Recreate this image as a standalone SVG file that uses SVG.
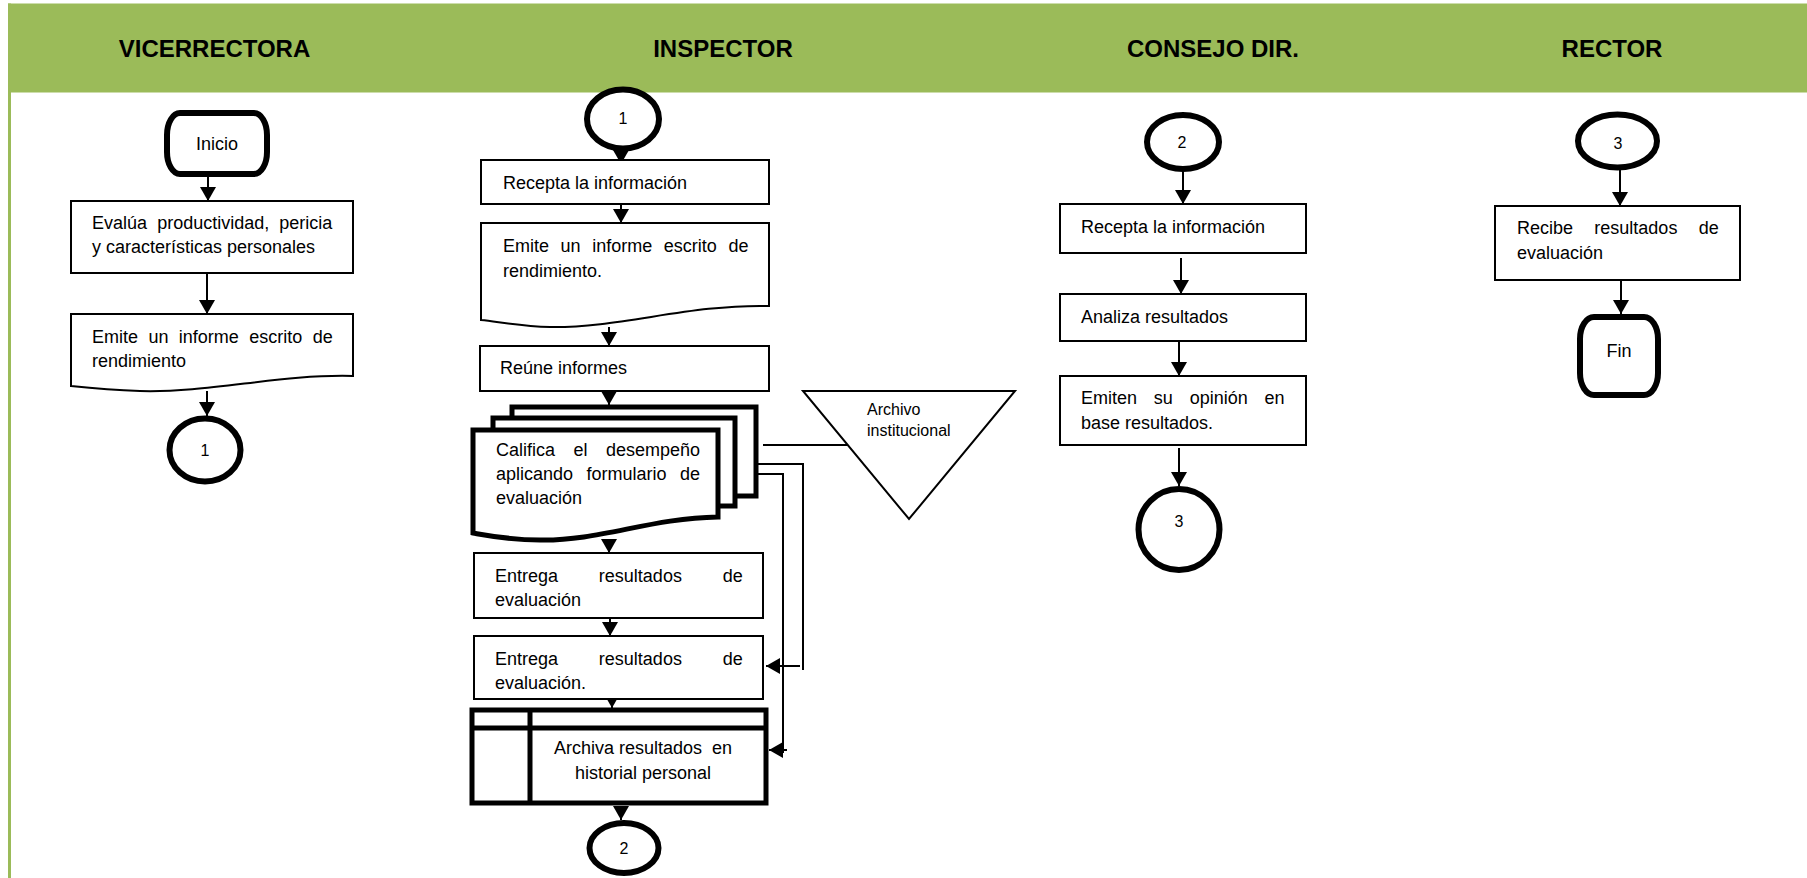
<svg xmlns="http://www.w3.org/2000/svg" width="1807" height="878" viewBox="0 0 1807 878">
  <style>
    .box { fill: #fff; stroke: #000; stroke-width: 2; }
    .heavy { fill: #fff; stroke: #000; stroke-width: 5; }
    .conn { fill: none; stroke: #000; stroke-width: 2; }
    .arrow { fill: none; stroke: #000; stroke-width: 2; marker-end: url(#ah); }
    text { font-family: "Liberation Sans", Arial, Helvetica, sans-serif; fill: #000; }
    .t { font-size: 18px; }
    .c { font-size: 18px; text-anchor: middle; }
    .n { font-size: 16px; text-anchor: middle; }
    .s { font-size: 16px; }
    .hd { font-size: 24px; font-weight: bold; text-anchor: middle; }
  </style>
  <defs>
    <marker id="ah" markerUnits="userSpaceOnUse" markerWidth="14" markerHeight="16" viewBox="0 0 14 16" refX="14" refY="8" orient="auto">
      <path d="M0,0 L14,8 L0,16 Z" fill="#000"/>
    </marker>
  </defs>

  <rect width="1807" height="878" fill="#fff"/>

  <!-- lane header band and left border -->
  <g id="lanes">
    <rect x="8" y="3.5" width="1799" height="89" fill="#9BBB59"/>
    <rect x="8" y="3.5" width="3" height="875" fill="#9BBB59"/>
    <text class="hd" x="214.5" y="57">VICERRECTORA</text>
    <text class="hd" x="723" y="57">INSPECTOR</text>
    <text class="hd" x="1213" y="57">CONSEJO DIR.</text>
    <text class="hd" x="1612" y="57">RECTOR</text>
  </g>

  <!-- connectors -->
  <g id="connectors">
    <path class="arrow" d="M208,177 V201"/>
    <path class="arrow" d="M207,273 V314"/>
    <path class="arrow" d="M207,391 V416"/>

    <path class="arrow" d="M621,148 V164"/>
    <path class="arrow" d="M621,204 V223"/>
    <path class="arrow" d="M609,327 V346"/>
    <path class="arrow" d="M609,391 V405"/>
    <path class="arrow" d="M609,540 V553"/>
    <path class="arrow" d="M610,618 V636"/>
    <path class="arrow" d="M612,699 V708"/>
    <path class="arrow" d="M621,806 V820"/>

    <path class="conn" d="M763,445 H848"/>
    <path class="conn" d="M738,464 H803 V670"/>
    <path class="arrow" d="M800,666 H766"/>
    <path class="conn" d="M712,474 H783 V753"/>
    <path class="arrow" d="M787,750 H769"/>

    <path class="arrow" d="M1183,169 V204"/>
    <path class="arrow" d="M1181,258 V294"/>
    <path class="arrow" d="M1179,341 V376"/>
    <path class="arrow" d="M1179,448 V486"/>

    <path class="arrow" d="M1620,168 V206"/>
    <path class="arrow" d="M1621,280 V314"/>
  </g>

  <!-- VICERRECTORA -->
  <g id="vic-inicio">
    <rect x="167" y="113" width="100" height="61" rx="13" ry="22" fill="#fff" stroke="#000" stroke-width="6"/>
    <text class="c" x="217" y="150">Inicio</text>
  </g>
  <g id="vic-evalua">
    <rect class="box" x="71" y="201" width="282" height="72"/>
    <text class="t" x="92" y="229" style="word-spacing:5.1px">Evalúa productividad, pericia</text>
    <text class="t" x="92" y="253">y características personales</text>
  </g>
  <g id="vic-emite">
    <path class="box" d="M71,314 H353 V376 C280,374 210,393 140,391 C110,390 90,388 71,386 Z"/>
    <text class="t" x="92" y="343" style="word-spacing:5.4px">Emite un informe escrito de</text>
    <text class="t" x="92" y="367">rendimiento</text>
  </g>
  <g id="vic-con1">
    <ellipse cx="205" cy="450" rx="35.5" ry="31.5" fill="#fff" stroke="#000" stroke-width="6"/>
    <text class="n" x="205" y="456">1</text>
  </g>

  <!-- INSPECTOR -->
  <g id="ins-con1">
    <ellipse cx="623" cy="119" rx="36" ry="29.5" fill="#fff" stroke="#000" stroke-width="6"/>
    <text class="n" x="623" y="124">1</text>
  </g>
  <g id="ins-recepta">
    <rect class="box" x="481" y="160" width="288" height="44"/>
    <text class="t" x="503" y="189">Recepta la información</text>
  </g>
  <g id="ins-emite">
    <path class="box" d="M481,223 H769 V306 C690,304 620,328 550,327 C520,326 500,322 481,320 Z"/>
    <text class="t" x="503" y="252" style="word-spacing:6.6px">Emite un informe escrito de</text>
    <text class="t" x="503" y="277">rendimiento.</text>
  </g>
  <g id="ins-reune">
    <rect class="box" x="480" y="346" width="289" height="45"/>
    <text class="t" x="500" y="374">Reúne informes</text>
  </g>
  <g id="ins-califica">
    <rect class="heavy" x="512" y="407" width="244" height="89"/>
    <rect class="heavy" x="493" y="418" width="242" height="88"/>
    <path class="heavy" d="M473,430 H718 V517 C650,518 600,541 540,540 C510,540 490,536 473,533 Z"/>
    <text class="t" x="496" y="456" style="word-spacing:13.5px">Califica el desempeño</text>
    <text class="t" x="496" y="480" style="word-spacing:8.5px">aplicando formulario de</text>
    <text class="t" x="496" y="504">evaluación</text>
  </g>
  <g id="ins-archivo">
    <polygon points="803,391 1015,391 909,519" fill="#fff" stroke="#000" stroke-width="2"/>
    <text class="s" x="867" y="415">Archivo</text>
    <text class="s" x="867" y="436">institucional</text>
  </g>
  <g id="ins-entrega1">
    <rect class="box" x="474" y="553" width="289" height="65"/>
    <text class="t" x="495" y="582" style="word-spacing:35.8px">Entrega resultados de</text>
    <text class="t" x="495" y="606">evaluación</text>
  </g>
  <g id="ins-entrega2">
    <rect class="box" x="474" y="636" width="289" height="63"/>
    <text class="t" x="495" y="665" style="word-spacing:35.8px">Entrega resultados de</text>
    <text class="t" x="495" y="689">evaluación.</text>
  </g>
  <g id="ins-archiva">
    <rect class="heavy" x="472" y="710" width="294" height="93"/>
    <path d="M472,728 H766 M530,710 V803" fill="none" stroke="#000" stroke-width="5"/>
    <text class="c" x="643" y="754" xml:space="preserve">Archiva resultados  en</text>
    <text class="c" x="643" y="779">historial personal</text>
  </g>
  <g id="ins-con2">
    <ellipse cx="624" cy="848" rx="34.5" ry="25" fill="#fff" stroke="#000" stroke-width="6"/>
    <text class="n" x="624" y="854">2</text>
  </g>

  <!-- CONSEJO DIR. -->
  <g id="con-con2">
    <ellipse cx="1183" cy="142" rx="36" ry="27" fill="#fff" stroke="#000" stroke-width="6"/>
    <text class="n" x="1182" y="148">2</text>
  </g>
  <g id="con-recepta">
    <rect class="box" x="1060" y="204" width="246" height="49"/>
    <text class="t" x="1081" y="233">Recepta la información</text>
  </g>
  <g id="con-analiza">
    <rect class="box" x="1060" y="294" width="246" height="47"/>
    <text class="t" x="1081" y="323">Analiza resultados</text>
  </g>
  <g id="con-emiten">
    <rect class="box" x="1060" y="376" width="246" height="69"/>
    <text class="t" x="1081" y="404" style="word-spacing:11.8px">Emiten su opinión en</text>
    <text class="t" x="1081" y="429">base resultados.</text>
  </g>
  <g id="con-con3">
    <circle cx="1179" cy="529.5" r="40.5" fill="#fff" stroke="#000" stroke-width="6"/>
    <text class="n" x="1179" y="527">3</text>
  </g>

  <!-- RECTOR -->
  <g id="rec-con3">
    <ellipse cx="1617.5" cy="141" rx="39.5" ry="26.5" fill="#fff" stroke="#000" stroke-width="6"/>
    <text class="n" x="1618" y="149">3</text>
  </g>
  <g id="rec-recibe">
    <rect class="box" x="1495" y="206" width="245" height="74"/>
    <text class="t" x="1517" y="234" style="word-spacing:16.3px">Recibe resultados de</text>
    <text class="t" x="1517" y="259">evaluación</text>
  </g>
  <g id="rec-fin">
    <rect x="1580" y="317" width="78" height="78" rx="14" ry="22" fill="#fff" stroke="#000" stroke-width="6"/>
    <text class="c" x="1619" y="357">Fin</text>
  </g>
</svg>
